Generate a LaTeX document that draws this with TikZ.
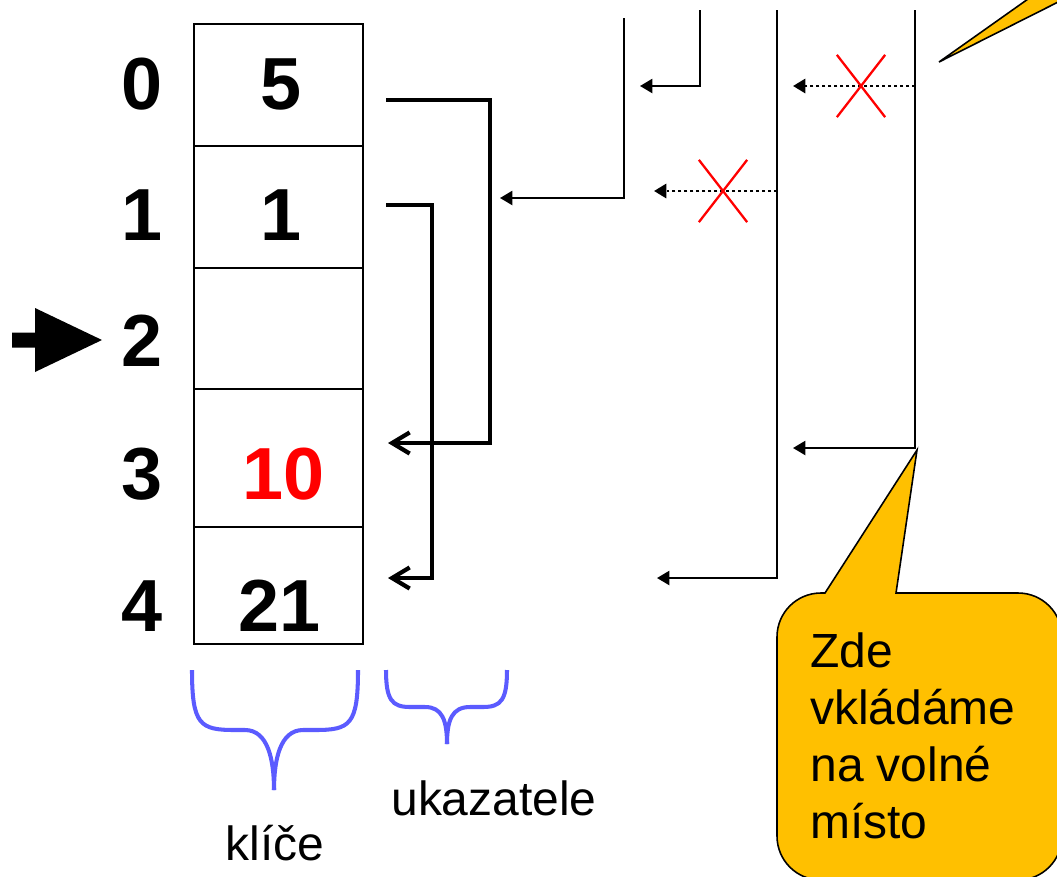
\documentclass[tikz,border=0pt]{standalone}
\usepackage{fontspec}
\setmainfont{Liberation Sans}
\usetikzlibrary{positioning}
\usetikzlibrary{shapes.misc}
\usetikzlibrary{arrows.meta}
\definecolor{calloutcol}{RGB}{255,192,0}
\definecolor{bracecol}{RGB}{91,91,255}
\tikzset{
    cell/.style = {rectangle, draw=black, line width=1.5pt, minimum width=3.38cm, inner sep=0pt},
    idxnode/.style = {font=\fontsize{42}{48}\selectfont\bfseries},
    keynode/.style = {font=\fontsize{42}{48}\selectfont\bfseries},
    edgep/.style = {-{Straight Barb[length=10pt,width=12pt]},line width=2.4pt}, % pointers
    edget/.style = {-{Triangle[length=7pt,width=8pt]},line width=1.1pt},
    edged/.style = {-{Triangle[length=7pt,width=8pt]},line width=1.6pt,dash pattern=on 1.7pt off 1.7pt}, % removed
    crossr/.style = {cross out, draw=red, line width=1.3pt, minimum width=0.92cm, minimum height=1.2cm},
    bracew/.style = {draw=bracecol, line width=2.3pt},
    callout/.style = {fill=calloutcol, draw=black, line width=0.9pt},
    labelt/.style = {font=\fontsize{27.3}{32.5}\selectfont}
}

\begin{document}
\begin{tikzpicture}[x=0.02cm,y=-0.02cm]
\useasboundingbox (0,0) rectangle (1057,876);
\clip (0,0) rectangle (1057,876);
%
\node[cell, minimum height=2.44cm] at (278.5,85) (c0) {};
\node[cell, minimum height=2.44cm] at (278.5,207) (c1) {};
\node[cell, minimum height=2.42cm] at (278.5,328.5) (c2) {};
\node[cell, minimum height=2.76cm] at (278.5,458) (c3) {};
\node[cell, minimum height=2.34cm] at (278.5,585.5) (c4) {};
%
\node[keynode] at (281,84) (k0) {5};
\node[keynode] at (281,215) (k1) {1};
\node[keynode, text=red] at (284,474) (k3) {10};
\node[keynode] at (280,606) (k4) {21};
%
\node[idxnode] at (142,84) (i0) {0};
\node[idxnode] at (142,215) (i1) {1};
\node[idxnode] at (142,341) (i2) {2};
\node[idxnode] at (142,474) (i3) {3};
\node[idxnode] at (142,606) (i4) {4};
%
\fill (12,332.5) -- (35,332.5) -- (35,308) -- (102,340) -- (35,372) -- (35,347.5) -- (12,347.5) -- cycle;
%
\coordinate (p0) at (386,100);
\coordinate (p1) at (386,205);
\coordinate (q3) at (388,443);
\coordinate (q4) at (388,578);
\draw[edgep] (p0) -- ++(104,0) |- (q3);
\draw[edgep] (p1) -- ++(46,0) |- (q4);
%
\coordinate (a0) at (624,18);
\coordinate (b0) at (500,198);
\coordinate (a1) at (700,10);
\coordinate (b1) at (640,86);
\coordinate (a2) at (777,10);
\coordinate (b2) at (657,578);
\coordinate (a3) at (915,10);
\coordinate (b3) at (793,448);
\draw[edget] (a0) |- (b0);
\draw[edget] (a1) |- (b1);
\draw[edget] (a2) |- (b2);
\draw[edget] (a3) |- (b3);
%
\coordinate (d2) at (777,191);
\coordinate (e2) at (654,191);
\coordinate (d3) at (915,86);
\coordinate (e3) at (793,86);
\draw[edged] (d2) -- (e2);
\draw[edged] (d3) -- (e3);
\node[crossr] at (723,191) (x2) {};
\node[crossr] at (861,86) (x3) {};
%
\draw[bracew] (192,670) .. controls (192,725) and (200,730) .. (235,730) -- (245,730)
    .. controls (268,730) and (274,760) .. (274,790);
\draw[bracew] (358,670) .. controls (358,725) and (350,730) .. (315,730) -- (303,730)
    .. controls (280,730) and (274,760) .. (274,790);
\draw[bracew] (386,670) .. controls (386,700) and (392,707) .. (410,707) -- (425,707)
    .. controls (442,707) and (447,720) .. (447,744);
\draw[bracew] (507,670) .. controls (507,700) and (501,707) .. (483,707) -- (470,707)
    .. controls (452,707) and (447,720) .. (447,744);
\node[labelt, anchor=base] at (275,860) (kl) {klíče};
\node[labelt, anchor=base] at (494,815) (uk) {ukazatele};
%
\draw[callout] (939,62) -- (1069,-30) -- (1080,-9) -- cycle;
\draw[callout] (825,593) -- (917,450) -- (896,593) [rounded corners=25pt] -- (1062,593)
    -- (1062,880) -- (777,880) -- (777,593) [sharp corners] -- cycle;
\node[labelt, align=left, anchor=north west, inner sep=0pt] at (810,632) (zde)
    {Zde\\vkládáme\\na volné\\místo};

\end{tikzpicture}
\end{document}
